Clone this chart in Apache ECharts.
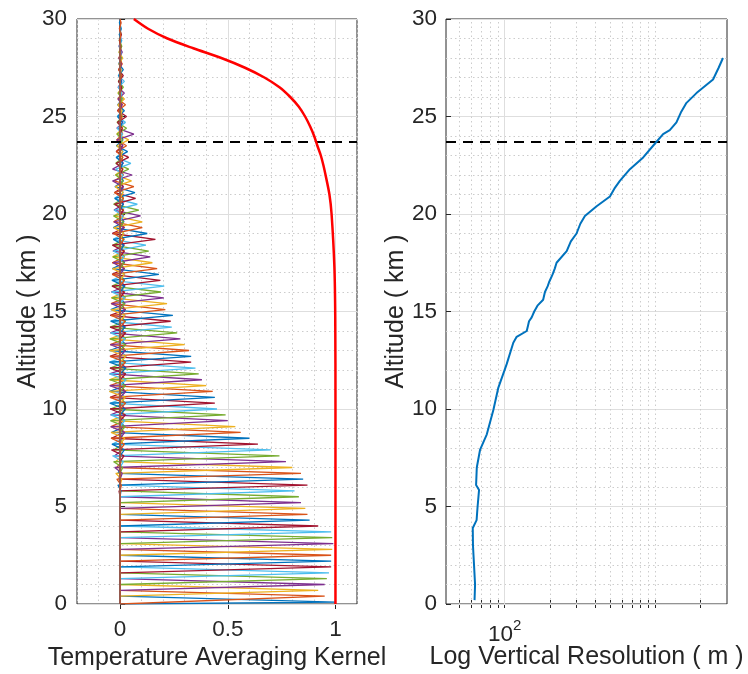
<!DOCTYPE html>
<html><head><meta charset="utf-8">
<script src="https://cdn.jsdelivr.net/npm/echarts@6/dist/echarts.min.js"></script>
<style>html,body{margin:0;padding:0;background:#fff}#c{width:748px;height:674px}</style>
</head><body><div id="c"></div>
<script>
// ---- data ----
const levels = [0.1,0.4,0.7,1.0,1.3,1.6,1.9,2.2,2.5,2.8,
  3.1,3.4,3.7,4.0,4.3,4.6,4.9,5.2,5.5,5.8,
  6.1,6.4,6.7,7.0,7.3,7.6,7.9,8.2,8.5,8.8,
  9.1,9.4,9.7,10.0,10.3,10.6,10.9,11.2,11.5,11.8,
  12.1,12.4,12.7,13.0,13.3,13.6,13.9,14.2,14.5,14.8,
  15.1,15.4,15.7,16.0,16.3,16.6,16.9,17.2,17.5,17.8,
  18.1,18.4,18.7,19.0,19.3,19.6,19.9,20.2,20.5,20.8,
  21.1,21.4,21.7,22.0,22.3,22.6,22.9,23.2,23.5,23.8,
  24.1,24.4,24.7,25.0,25.3,25.6,25.9,26.2,26.5,26.8,
  27.1,27.4,27.7,28.0,28.3,28.6,28.9,29.2,29.5,29.8];
const kernelPeaks = [1.00,0.95,0.92,0.95,0.96,0.97,0.98,0.98,0.98,0.985,
  0.99,0.985,0.98,0.92,0.88,0.87,0.86,0.84,0.83,0.81,
  0.87,0.85,0.84,0.80,0.77,0.74,0.70,0.64,0.60,0.56,
  0.535,0.50,0.49,0.45,0.44,0.44,0.43,0.40,0.38,0.365,
  0.35,0.33,0.33,0.32,0.30,0.28,0.265,0.24,0.235,0.245,
  0.21,0.218,0.203,0.19,0.205,0.187,0.18,0.172,0.15,0.14,
  0.133,0.12,0.164,0.126,0.103,0.103,0.095,0.087,0.08,0.072,
  0.069,0.064,0.053,0.056,0.04,0.05,0.04,0.035,0.03,0.04,
  0.064,0.03,0.025,0.03,0.02,0.025,0.02,0.02,0.015,0.02,
  0.015,0.015,0.01,0.012,0.01,0.008,0.008,0.006,0.005,0.004];
const kernelLobe1 = [0,0,0,0,0,0,0,0,0,0,
  0,0,0,0,0,0,0,0,0,0,
  -0.005,-0.01,-0.015,-0.02,-0.025,-0.03,-0.035,-0.04,-0.038,-0.042,
  -0.042,-0.044,-0.045,-0.043,-0.046,-0.048,-0.047,-0.05,-0.048,-0.046,
  -0.05,-0.047,-0.049,-0.046,-0.048,-0.045,-0.047,-0.044,-0.046,-0.043,
  -0.042,-0.041,-0.04,-0.038,-0.039,-0.037,-0.036,-0.036,-0.035,-0.033,
  -0.033,-0.032,-0.036,-0.031,-0.03,-0.029,-0.028,-0.03,-0.026,-0.025,
  -0.024,-0.027,-0.022,-0.035,-0.02,-0.019,-0.018,-0.017,-0.016,-0.015,
  -0.015,-0.014,-0.013,-0.012,-0.011,-0.01,-0.01,-0.009,-0.008,-0.008,
  -0.007,-0.006,-0.006,-0.005,-0.005,-0.004,-0.004,-0.003,-0.003,-0.002];
const kernelLobe2 = [0,0,0,0,0,0,0,0,0,0,
  0,0,0,0,0,0,0,0,0,0,
  0,0.004,0.006,0.008,0.01,0.012,0.015,0.018,0.02,0.02,
  0.022,0.022,0.024,0.022,0.025,0.024,0.026,0.025,0.027,0.025,
  0.028,0.026,0.027,0.025,0.027,0.024,0.026,0.024,0.025,0.023,
  0.024,0.022,0.023,0.021,0.022,0.02,0.021,0.02,0.02,0.019,
  0.019,0.018,0.02,0.018,0.017,0.017,0.016,0.016,0.015,0.015,
  0.015,0.016,0.014,0.015,0.013,0.014,0.012,0.013,0.012,0.012,
  0.013,0.011,0.011,0.01,0.01,0.009,0.009,0.008,0.008,0.007,
  0.007,0.006,0.006,0.005,0.005,0.004,0.004,0.003,0.003,0.002];
const responseAlt = [0,5,10,14.7,17.3,20,21,22,22.5,23,23.5,24,24.5,25,25.5,26,26.5,27,27.5,28,28.5,29,29.5,30];
const responseVal = [1.0,1.0,1.0,0.999,0.995,0.982,0.972,0.954,0.944,0.932,0.916,0.901,0.882,0.859,0.83,0.79,0.74,0.67,0.58,0.47,0.34,0.22,0.13,0.064];
const resolutionAlt = [0.2,1.0,2.0,3.0,3.9,4.3,5.0,5.85,6.1,7.0,7.9,8.7,9.95,11.1,12.3,13.4,13.7,14.0,14.3,14.5,14.7,14.8,15.0,15.3,15.6,16.0,16.3,16.5,16.9,17.2,17.5,18.1,18.6,19.0,19.5,19.9,20.4,20.9,21.3,21.7,22.3,22.9,23.5,24.1,24.3,24.7,25.2,25.7,26.2,26.9,27.5,28.0];
const resolutionVal = [63,63.5,62.5,61.5,61.3,65,66,67.5,64.5,65.2,68.5,76,84,90.7,103,114,120,140,143,145,151,148,157,165,180,185,193,197,208,215,221,258,275,300,318,341,408,500,535,582,679,832,968,1128,1250,1384,1480,1614,1880,2423,2640,2820];
const cutoffAlt = 23.7;
const yTicks = [0,5,10,15,20,25,30];
const kernelXTicks = [0,0.5,1];
const logMajorTick = [100];
const logMinorTicks = [50,60,70,80,90,200,300,400,500,600,700,800,900,1000,2000];

// ---- styles ----
const FONT = 'Liberation Sans';
const TXT = '#262626';
const colors = ['#0072BD','#D95319','#EDB120','#7E2F8E','#77AC30','#4DBEEE','#A2142F'];
const minorLine = {color:'#cccccc', type:[1.5,3], width:1};
const majorLine = {color:'#dedede', type:'solid', width:1};
const tickStyle = {show:true, inside:true, length:5, lineStyle:{color:TXT}};

const kernelSeries = levels.map((z, i) => {
  const data = [[0, 0]];
  levels.forEach((zz, j) => {
    const d = Math.abs(j - i);
    const v = d === 0 ? kernelPeaks[i] : d === 1 ? kernelLobe1[i] : d === 2 ? kernelLobe2[i] : 0;
    data.push([v, zz]);
  });
  data.push([0, 30]);
  return {type:'line', xAxisIndex:0, yAxisIndex:0, data, showSymbol:false, symbol:'none',
    silent:true, z:2, lineStyle:{width:1.3, color:colors[i % colors.length]}};
});

const nameStyle = {fontSize:25, color:TXT, fontFamily:FONT};
const option = {
  animation:false,
  backgroundColor:'#ffffff',
  textStyle:{fontFamily:FONT, color:TXT},
  grid:[
    {left:77, top:19, width:280, height:585, containLabel:false, outerBoundsMode:'none',
     show:true, borderColor:TXT, borderWidth:1, backgroundColor:'transparent'},
    {left:446, top:19, width:281, height:585, containLabel:false, outerBoundsMode:'none',
     show:true, borderColor:TXT, borderWidth:1, backgroundColor:'transparent'}
  ],
  xAxis:[
    {type:'value', gridIndex:0, min:-0.2, max:1.1, interval:0.1, position:'bottom', z:1,
     axisLine:{show:false}, splitLine:{show:true, lineStyle:majorLine},
     axisTick:Object.assign({customValues:kernelXTicks}, tickStyle),
     axisLabel:{customValues:kernelXTicks, margin:14, fontSize:22.5, color:TXT, fontFamily:FONT,
       formatter:v => String(v)},
     name:'Temperature Averaging Kernel', nameLocation:'middle', nameGap:42, nameMoveOverlap:false,
     nameTextStyle:nameStyle},
    {type:'value', gridIndex:0, min:-0.2, max:1.1, interval:0.1, position:'top',
     axisLine:{show:false}, splitLine:{show:false}, axisLabel:{show:false},
     axisTick:Object.assign({customValues:kernelXTicks}, tickStyle)},
    {type:'value', gridIndex:0, min:-0.2, max:1.1, interval:0.1, position:'bottom', offset:0, z:0,
     axisLine:{show:false}, axisTick:{show:false}, axisLabel:{show:false},
     splitLine:{show:true, lineStyle:minorLine}},
    {type:'log', logBase:10, gridIndex:1, min:40.7, max:3000, position:'bottom',
     axisLine:{show:false}, splitLine:{show:false},
     axisTick:{show:true, inside:true, length:4, customValues:logMinorTicks.concat(logMajorTick), lineStyle:{color:TXT}},
     axisLabel:{customValues:logMajorTick, margin:14, color:TXT, fontFamily:FONT,
       formatter:() => '{a|10}{b|2}',
       rich:{a:{fontSize:22.5, lineHeight:28, verticalAlign:'bottom', color:TXT, fontFamily:FONT},
             b:{fontSize:15, lineHeight:15, verticalAlign:'top', color:TXT, fontFamily:FONT}}},
     name:'Log Vertical Resolution ( m )', nameLocation:'middle', nameGap:41, nameMoveOverlap:false,
     nameTextStyle:nameStyle},
    {type:'log', logBase:10, gridIndex:1, min:40.7, max:3000, position:'top',
     axisLine:{show:false}, splitLine:{show:false}, axisLabel:{show:false},
     axisTick:{show:true, inside:true, length:4, customValues:logMinorTicks.concat(logMajorTick), lineStyle:{color:TXT}}}
  ],
  yAxis:[
    {type:'value', gridIndex:0, min:0, max:30, interval:1, position:'left', z:1,
     axisLine:{show:false}, splitLine:{show:true, lineStyle:majorLine},
     axisTick:Object.assign({customValues:yTicks}, tickStyle),
     axisLabel:{customValues:yTicks, margin:10, fontSize:22.5, color:TXT, fontFamily:FONT},
     name:'Altitude ( km )', nameLocation:'middle', nameGap:36, nameRotate:90, nameMoveOverlap:false,
     nameTextStyle:nameStyle},
    {type:'value', gridIndex:0, min:0, max:30, interval:1, position:'right',
     axisLine:{show:false}, axisLabel:{show:false}, splitLine:{show:false},
     axisTick:Object.assign({customValues:yTicks}, tickStyle)},
    {type:'value', gridIndex:0, min:0, max:30, interval:1, position:'left', offset:0, z:0,
     axisLine:{show:false}, axisTick:{show:false}, axisLabel:{show:false},
     splitLine:{show:true, lineStyle:minorLine}},
    {type:'value', gridIndex:1, min:0, max:30, interval:1, position:'left', z:1,
     axisLine:{show:false}, splitLine:{show:true, lineStyle:majorLine},
     axisTick:Object.assign({customValues:yTicks}, tickStyle),
     axisLabel:{customValues:yTicks, margin:9, fontSize:22.5, color:TXT, fontFamily:FONT},
     name:'Altitude ( km )', nameLocation:'middle', nameGap:37, nameRotate:90, nameMoveOverlap:false,
     nameTextStyle:nameStyle},
    {type:'value', gridIndex:1, min:0, max:30, interval:1, position:'right',
     axisLine:{show:false}, axisLabel:{show:false}, splitLine:{show:false},
     axisTick:Object.assign({customValues:yTicks}, tickStyle)},
    {type:'value', gridIndex:1, min:0, max:30, interval:1, position:'left', offset:0, z:0,
     axisLine:{show:false}, axisTick:{show:false}, axisLabel:{show:false},
     splitLine:{show:true, lineStyle:minorLine}}
  ],
  series:[
    {type:'line', xAxisIndex:3, yAxisIndex:3, data:[], z:1, silent:true,
     markLine:{silent:true, symbol:'none', label:{show:false}, animation:false,
       data:logMajorTick.map(v => ({xAxis:v, lineStyle:majorLine}))
         .concat(logMinorTicks.map(v => ({xAxis:v, lineStyle:minorLine})))}},
    ...kernelSeries,
    {type:'line', xAxisIndex:0, yAxisIndex:0, z:5, silent:true, smooth:0.3,
     data:responseAlt.map((a, i) => [responseVal[i], a]), showSymbol:false, symbol:'none',
     lineStyle:{color:'#FF0000', width:2.5},
     markLine:{silent:true, symbol:'none', label:{show:false}, animation:false,
       lineStyle:{color:'#000000', type:[10,7], width:2}, data:[{yAxis:cutoffAlt}]}},
    {type:'line', xAxisIndex:3, yAxisIndex:3, z:5, silent:true,
     data:resolutionAlt.map((a, i) => [resolutionVal[i], a]), showSymbol:false, symbol:'none',
     lineStyle:{color:'#0072BD', width:2},
     markLine:{silent:true, symbol:'none', label:{show:false}, animation:false,
       lineStyle:{color:'#000000', type:[10,7], width:2}, data:[{yAxis:cutoffAlt}]}}
  ]
};
const chart = echarts.init(document.getElementById('c'), null, {renderer:'canvas'});
chart.setOption(option);
</script></body></html>
